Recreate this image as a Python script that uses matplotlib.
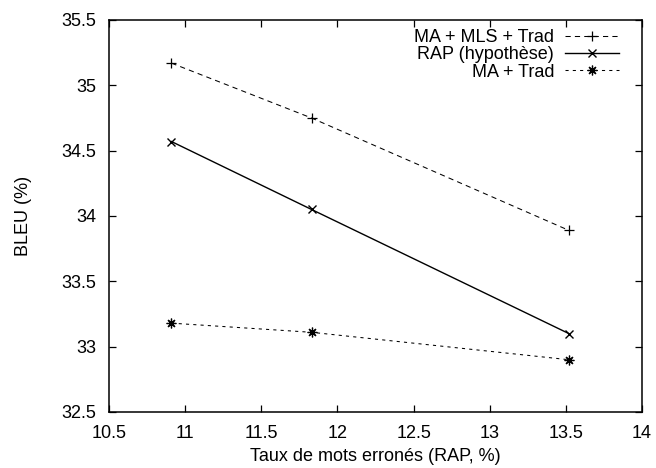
import matplotlib
matplotlib.use("Agg")
import matplotlib.pyplot as plt

plt.rcParams['font.family'] = ['Liberation Sans', 'DejaVu Sans']

wer = [10.91, 11.83, 13.52]
bleu_ma_mls = [35.17, 34.75, 33.89]
bleu_rap = [34.57, 34.05, 33.10]
bleu_ma = [33.18, 33.11, 32.90]
labels = ["MA + MLS + Trad", "RAP (hypothèse)", "MA + Trad"]
xticks = [10.5, 11, 11.5, 12, 12.5, 13, 13.5, 14]
yticks = [32.5, 33, 33.5, 34, 34.5, 35, 35.5]
xtick_labels = ["10.5", "11", "11.5", "12", "12.5", "13", "13.5", "14"]
ytick_labels = ["32.5", "33", "33.5", "34", "34.5", "35", "35.5"]

W, H = 656, 468
fig = plt.figure(figsize=(W / 100, H / 100), dpi=100)
L, R, T, B = 109, 642, 20, 412
ax = fig.add_axes([L / W, 1 - B / H, (R - L) / W, (B - T) / H])

ax.plot(wer, bleu_ma_mls, color='black', lw=0.75, dashes=(5, 4), marker='+', ms=6.5, mew=0.9, label=labels[0])
ax.plot(wer, bleu_rap, color='black', lw=1.0, marker='x', ms=6, mew=1.0, label=labels[1])
ax.plot(wer, bleu_ma, color='black', lw=0.75, dashes=(3, 4), marker=(8, 2, 0), ms=7, mew=0.9, label=labels[2])

ax.set_xlim(10.5, 14)
ax.set_ylim(32.5, 35.5)
ax.set_xticks(xticks)
ax.set_xticklabels(xtick_labels)
ax.set_yticks(yticks)
ax.set_yticklabels(ytick_labels)
ax.tick_params(direction='in', top=True, right=True, length=5, width=0.9, labelsize=13)
ax.tick_params(axis='x', pad=9)
ax.tick_params(axis='y', pad=9)
for s in ax.spines.values():
    s.set_linewidth(1.1)

ax.set_xlabel("Taux de mots erronés (RAP, %)", fontsize=13)
ax.xaxis.set_label_coords(0.5, (B - 448) / (B - T))
ax.set_ylabel("BLEU (%)", fontsize=13)
ax.yaxis.set_label_coords((32 - L) / (R - L), 0.5)

ax.legend(loc='upper right', bbox_to_anchor=(619 / W, 1 - 29 / H), bbox_transform=fig.transFigure,
          frameon=False, markerfirst=False, fontsize=13, borderpad=0, borderaxespad=0,
          handlelength=3.0, handletextpad=0.6, labelspacing=0.02)

fig.savefig("out.png", dpi=100)
